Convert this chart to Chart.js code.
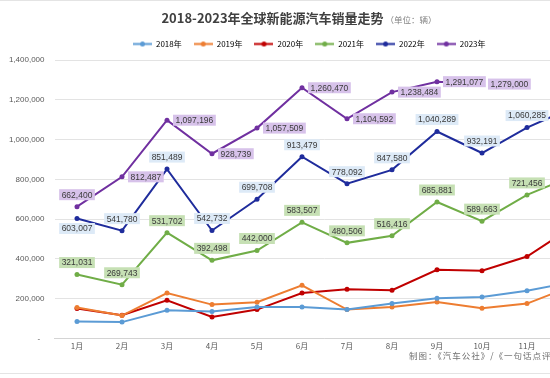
<!DOCTYPE html>
<html>
<head>
<meta charset="utf-8">
<script src="https://cdn.jsdelivr.net/npm/chart.js@4.4.1/dist/chart.umd.min.js"></script>
<style>
  html, body { margin: 0; padding: 0; background: #fff; overflow: hidden; width: 550px; height: 378px; }
  #wrap { position: absolute; left: 0; top: 0; width: 620px; height: 378px; }
  #title { position: absolute; left: 0; top: 4px; width: 598px; text-align: center; font-family: "Noto Sans CJK SC", sans-serif; color: #404040; white-space: nowrap; }
  #title .main { font-size: 13px; font-weight: bold; }
  #title .unit { font-size: 8.5px; color: #808080; margin-left: 2px; }
  #foot { position: absolute; left: 409px; top: 349px; font-family: "Noto Sans CJK SC", sans-serif; font-size: 8.5px; color: #707070; letter-spacing: 1px; white-space: nowrap; }
  .rule { position: absolute; left: 0; width: 620px; height: 1px; background: #e4e4e4; }
</style>
</head>
<body>
<div id="wrap">
  <div class="rule" style="top:0"></div>
  <div id="title"><span class="main">2018-2023年全球新能源汽车销量走势</span><span class="unit">（单位：辆）</span></div>
  <canvas id="chart" width="620" height="378"></canvas>
  <div id="foot">制图：《汽车公社》/《一句话点评》</div>
  <div class="rule" style="top:373px"></div>
</div>
<script>
// ========= DATA ========= //
const months = ["1月", "2月", "3月", "4月", "5月", "6月", "7月", "8月", "9月", "10月", "11月", "12月"];
const seriesNames = ["2018年", "2019年", "2020年", "2021年", "2022年", "2023年"];

const sales2018 = [85000, 82000, 142000, 135000, 158000, 158000, 145000, 175000, 202000, 208000, 240000, 283000];
const sales2019 = [155000, 115000, 228000, 170000, 182000, 267000, 145000, 158000, 183000, 152000, 175000, 263000];
const sales2020 = [150000, 117000, 192000, 108000, 145000, 228000, 247000, 242000, 345000, 340000, 412000, 560000];
const sales2021 = [321031, 269743, 531702, 392498, 442000, 583507, 480506, 516416, 685881, 589663, 721456, 815000];
const sales2022 = [603007, 541780, 851489, 542732, 699708, 913479, 778092, 847580, 1040289, 932191, 1060285, 1160000];
const sales2023 = [662400, 812487, 1097196, 928739, 1057509, 1260470, 1104592, 1238484, 1291077, 1279000, null, null];

const yTicks = [0, 200000, 400000, 600000, 800000, 1000000, 1200000, 1400000];

// ========= STYLE ========= //
const colors = ["#5b9bd5", "#ed7d31", "#c00000", "#70ad47", "#1f2c9c", "#7030a0"];
const allSales = [sales2018, sales2019, sales2020, sales2021, sales2022, sales2023];

// label box colour + where the label sits, only for the three labelled years
const labelStyle = {
    3: { bg: "#c6e0b4", pos: () => "above" },
    4: { bg: "#ddeaf7", pos: i => (i === 0 ? "below" : "above") },
    5: { bg: "#d7c2ea", pos: i => (i === 0 ? "above" : "right") }
};

Chart.defaults.font.family = "'Liberation Sans', sans-serif";
Chart.defaults.font.size = 8;
Chart.defaults.color = "#595959";

// little line + dot for the legend
function legendIcon(color) {
    const c = document.createElement("canvas");
    c.width = 19; c.height = 7;
    const g = c.getContext("2d");
    g.strokeStyle = color; g.lineWidth = 2;
    g.beginPath(); g.moveTo(0, 3.5); g.lineTo(19, 3.5); g.stroke();
    g.fillStyle = color;
    g.beginPath(); g.arc(9.5, 3.5, 2.5, 0, Math.PI * 2); g.fill();
    return c;
}

const fmt = v => v.toLocaleString("en-US");

// ========= DATA LABELS ========= //
const boxLabels = {
    id: "boxLabels",
    afterDatasetsDraw(chart) {
        const ctx = chart.ctx;
        ctx.save();
        ctx.font = "8.5px 'Liberation Sans', sans-serif";
        ctx.textBaseline = "middle";
        Object.keys(labelStyle).forEach(k => {
            const di = +k;
            const st = labelStyle[k];
            const meta = chart.getDatasetMeta(di);
            chart.data.datasets[di].data.forEach((v, i) => {
                if (v == null) return;
                const p = meta.data[i];
                const txt = fmt(v);
                const w = ctx.measureText(txt).width + 5;
                const h = 11;
                let cx = p.x, cy = p.y;
                const pos = st.pos(i);
                if (pos === "above") cy = p.y - 12;
                else if (pos === "below") cy = p.y + 10;
                else cx = p.x + 6 + w / 2;
                ctx.fillStyle = st.bg;
                ctx.fillRect(cx - w / 2, cy - h / 2, w, h);
                ctx.fillStyle = "#3a3a3a";
                ctx.textAlign = "center";
                ctx.fillText(txt, cx, cy + 0.5);
            });
        });
        ctx.restore();
    }
};

// nudge legend to sit where the original one is
const legendShift = {
    id: "legendShift",
    afterLayout(chart) {
        chart.legend.left += 12;
        chart.legend.right += 12;
        chart.legend.top -= 2;
        chart.legend.bottom -= 2;
    }
};

// ========= CHART ========= //
const datasets = allSales.map((d, i) => ({
    label: seriesNames[i],
    data: d,
    borderColor: colors[i],
    backgroundColor: colors[i],
    borderWidth: 2,
    pointRadius: 2.5,
    pointBorderWidth: 0,
    tension: 0,
    spanGaps: false
}));

new Chart(document.getElementById("chart"), {
    type: "line",
    data: { labels: months, datasets: datasets },
    options: {
        responsive: false,
        animation: false,
        events: [],
        layout: { padding: { top: 30, right: 25.5, bottom: 24, left: 0 } },
        plugins: {
            tooltip: { enabled: false },
            legend: {
                position: "top",
                labels: {
                    usePointStyle: true,
                    pointStyleWidth: 19,
                    padding: 12,
                    color: "#595959",
                    font: { family: "'Noto Sans CJK SC', sans-serif", size: 8 },
                    generateLabels: chart => chart.data.datasets.map((ds, i) => ({
                        text: ds.label,
                        pointStyle: legendIcon(colors[i]),
                        fillStyle: colors[i],
                        strokeStyle: colors[i],
                        lineWidth: 0,
                        hidden: false,
                        datasetIndex: i
                    }))
                }
            }
        },
        scales: {
            x: {
                offset: true,
                grid: { display: false, drawTicks: false },
                border: { display: true, color: "#d4d4d4" },
                ticks: {
                    padding: 3,
                    maxRotation: 0,
                    autoSkip: false,
                    font: { family: "'Noto Sans CJK SC', sans-serif", size: 8 }
                }
            },
            y: {
                min: 0,
                max: 1400000,
                afterBuildTicks: s => { s.ticks = yTicks.map(v => ({ value: v })); },
                afterFit: s => { s.width = 54.5; },
                grid: { color: "#e3e3e3", lineWidth: 1, drawTicks: false },
                border: { display: false },
                ticks: {
                    padding: 10,
                    callback: v => (v === 0 ? "-  " : fmt(v))
                }
            }
        }
    },
    plugins: [boxLabels, legendShift]
});
</script>
</body>
</html>
